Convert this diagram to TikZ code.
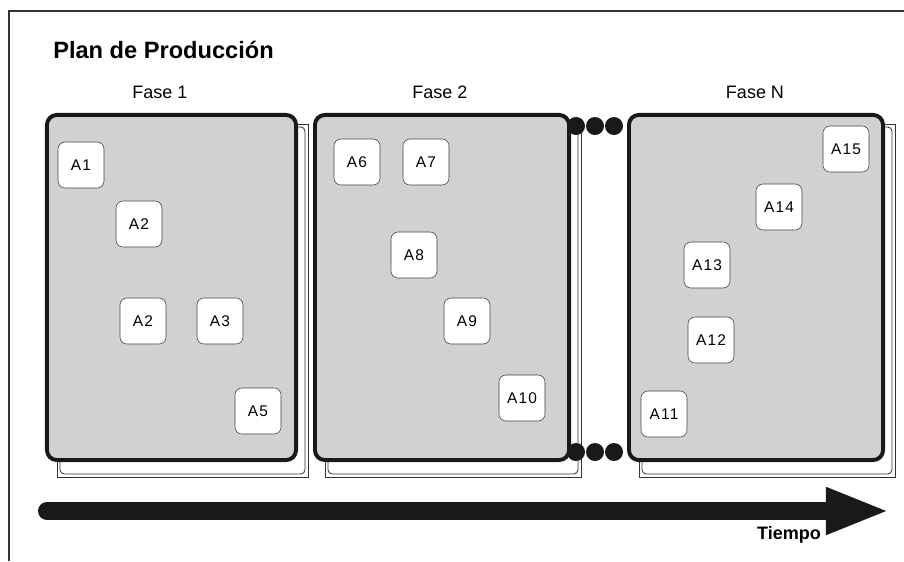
\documentclass[tikz,border=0pt]{standalone}
\usepackage{fontspec}
\setmainfont{Liberation Sans}
\newfontfamily\espaciada[LetterSpace=8]{Liberation Sans}
\usetikzlibrary{arrows.meta,positioning}

\begin{document}
\begin{tikzpicture}[x=0.025cm, y=-0.025cm,
    fase/.style={draw=black!90, line width=2.8pt, rounded corners=7pt, fill=black!18, minimum height=8.625cm},
    act/.style={draw=black!75, fill=white, rounded corners=5pt, minimum width=1.15cm, minimum height=1.15cm, font=\espaciada\fontsize{11}{13}\selectfont},
    etiq/.style={font=\fontsize{12.8}{15}\selectfont},
    punto/.style={circle, fill=black!90, minimum size=0.45cm, inner sep=0pt},
    tiempo/.style={line width=0.45cm, line cap=round, black!90, -{Triangle[length=1.6cm, width=1.07cm]}}
]
\useasboundingbox (0,0) rectangle (904,561);
\draw[black!80, line width=1pt] (9,561) -- (9,11) -- (904,11);

\node[anchor=west, inner sep=0pt, font=\bfseries\fontsize{16.8}{20}\selectfont] (titulo) at (53,50) {Plan de Producción};

% hojas de fondo
\foreach \l/\r in {47/296, 315/569, 629/883} {
  \draw[black!80, fill=white, line width=0.6pt] (\l+10,124) rectangle (\r+12,477);
  \draw[black!80, line width=0.6pt, rounded corners=3pt] (\l+13,127) rectangle (\r+9,474);
}

\node[fase, minimum width=6.225cm] (f1) at (171.5,287.5) {};
\node[fase, minimum width=6.35cm] (f2) at (442,287.5) {};
\node[fase, minimum width=6.35cm] (fn) at (756,287.5) {};

\node[etiq] (l1) at (160,92) {Fase 1};
\node[etiq] (l2) at (440,92) {Fase 2};
\node[etiq] (ln) at (755,92) {Fase N};

% actividades
\node[act] (a1) at (81,165) {A1};
\node[act] (a2) at (139,224) {A2};
\node[act] (a2b) at (143,321) {A2};
\node[act] (a3) at (220,321) {A3};
\node[act] (a5) at (258,411) {A5};
\node[act] (a6) at (357,162) {A6};
\node[act] (a7) at (426,162) {A7};
\node[act] (a8) at (414,255) {A8};
\node[act] (a9) at (467,321) {A9};
\node[act] (a10) at (522,398) {A10};
\node[act] (a11) at (664,414) {A11};
\node[act] (a12) at (711,340) {A12};
\node[act] (a13) at (707,265) {A13};
\node[act] (a14) at (779,207) {A14};
\node[act] (a15) at (846,149) {A15};

% puntos suspensivos
\node[punto] (p1) at (576,126) {};
\node[punto] (p2) at (595,126) {};
\node[punto] (p3) at (614,126) {};
\node[punto] (q1) at (576,452) {};
\node[punto] (q2) at (595,452) {};
\node[punto] (q3) at (614,452) {};

\coordinate (t0) at (47,511);
\coordinate (t1) at (890,511);
\draw[tiempo] (t0) -- (t1);
\node[font=\bfseries\fontsize{12.8}{15}\selectfont] (tiempo) at (789,535) {Tiempo};
\end{tikzpicture}
\end{document}
